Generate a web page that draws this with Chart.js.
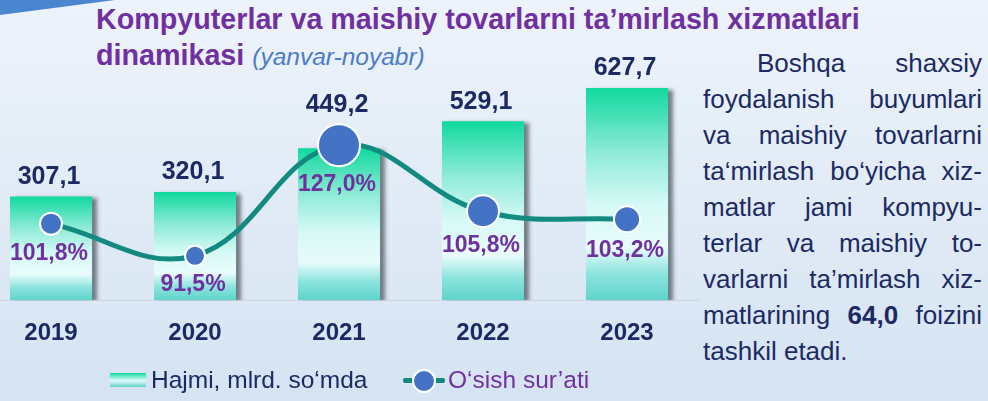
<!DOCTYPE html>
<html>
<head>
<meta charset="utf-8">
<script src="https://cdn.jsdelivr.net/npm/chart.js@4.4.0/dist/chart.umd.min.js"></script>
<style>
  body {
    margin: 0;
    width: 988px;
    height: 401px;
    overflow: hidden;
    position: relative;
    background: linear-gradient(#edf3fa, #d5e3f2);
    font-family: 'Liberation Sans', Arial, sans-serif;
  }
  .swoosh {
    position: absolute; left: 0; top: 0; width: 120px; height: 18px;
    background: #4a86d0;
    clip-path: polygon(0 0, 115px 0, 0 15px);
  }
  .title {
    position: absolute; left: 96px; top: 1px;
    font-size: 28.7px; font-weight: bold; line-height: 36px;
    color: #7030a0; white-space: nowrap;
  }
  .title span { font-size: 24.5px; font-weight: normal; font-style: italic; color: #4a7cc8; }
  #wrap { position: absolute; left: -21px; top: 0; width: 720px; height: 367px; }
  .note {
    position: absolute; left: 703px; top: 45px; width: 279px;
    font-size: 26px; line-height: 36px; color: #1b2a63;
  }
  .note div { text-align: justify; text-align-last: justify; }
  .note div.last { text-align: left; text-align-last: left; }
  .note div.first { padding-left: 54px; }
  .legend { position: absolute; top: 365px; left: 0; height: 30px; font-size: 24.5px; line-height: 30px; }
  .legend .box {
    position: absolute; left: 110px; top: 8px; width: 36px; height: 14px;
    background: linear-gradient(#10d99e, #e2fbfa 55%, #5fd4cb);
  }
  .legend .t1 { position: absolute; left: 151px; top: 0; color: #1b2a63; white-space: nowrap; }
  .legend .ln { position: absolute; left: 403px; top: 13px; width: 42px; height: 5px; background: #128a80; border-radius: 2px; }
  .legend .dot { position: absolute; left: 412px; top: 4px; width: 20px; height: 20px; border-radius: 50%; background: #4472c4; border: 2px solid #fff; }
  .legend .t2 { position: absolute; left: 448px; top: 0; color: #7030a0; white-space: nowrap; }
</style>
</head>
<body>
<div class="swoosh"></div>
<div class="title">Kompyuterlar va maishiy tovarlarni ta’mirlash xizmatlari<br>dinamikasi <span>(yanvar-noyabr)</span></div>
<div id="wrap"><canvas id="chart" width="720" height="367"></canvas></div>
<div class="note">
  <div class="first">Boshqa shaxsiy</div>
  <div>foydalanish buyumlari</div>
  <div>va maishiy tovarlarni</div>
  <div>ta‘mirlash bo‘yicha xiz-</div>
  <div>matlar jami kompyu-</div>
  <div>terlar va maishiy to-</div>
  <div>varlarni ta’mirlash xiz-</div>
  <div>matlarining <b>64,0</b> foizini</div>
  <div class="last">tashkil etadi.</div>
</div>
<div class="legend">
  <div class="box"></div><div class="t1">Hajmi, mlrd. so‘mda</div>
  <div class="ln"></div><div class="dot"></div><div class="t2">O‘sish sur’ati</div>
</div>
<script>
// Ma'lumotlar
const years = ['2019', '2020', '2021', '2022', '2023'];
const volume = [307.1, 320.1, 449.2, 529.1, 627.7];   // mlrd. so'm
const growth = [101.8, 91.5, 127.0, 105.8, 103.2];    // %

const fmt = v => v.toFixed(1).replace('.', ',');

// Ustunlar uchun gradient (tepada yashil, o'rtada oq, pastda moviy)
function barFill(c) {
  const chart = c.chart;
  if (!chart.chartArea || c.type !== 'data') return '#7fe3d5';
  const ys = chart.scales.y;
  const top = ys.getPixelForValue(c.raw);
  const bottom = ys.getPixelForValue(0);
  const g = chart.ctx.createLinearGradient(0, top, 0, bottom);
  g.addColorStop(0, '#10d99e');
  g.addColorStop(0.3, '#8debd6');
  g.addColorStop(0.55, '#d5f9f6');
  g.addColorStop(0.75, '#e8fcfb');
  g.addColorStop(0.88, '#8ae3dd');
  g.addColorStop(1, '#5fd4cb');
  return g;
}

// Ustun soyasi va yozuvlar
const decor = {
  id: 'decor',
  beforeDatasetDraw(chart, args) {
    if (args.index !== 1) return;
    const ctx = chart.ctx;
    ctx.save();
    ctx.shadowColor = 'rgba(40,50,60,0.6)';
    ctx.shadowOffsetX = 5;
    ctx.shadowOffsetY = 2;
    ctx.shadowBlur = 4;
  },
  afterDatasetDraw(chart, args) {
    if (args.index === 1) chart.ctx.restore();
  },
  afterDatasetsDraw(chart) {
    const ctx = chart.ctx;
    const lineMeta = chart.getDatasetMeta(0);
    const barMeta = chart.getDatasetMeta(1);
    ctx.save();
    ctx.textAlign = 'center';
    barMeta.data.forEach((bar, i) => {
      const pt = lineMeta.data[i];
      const r = pt.options.radius;
      const top = Math.min(bar.y, pt.y - r);
      ctx.font = 'bold 25px "Liberation Sans", Arial, sans-serif';
      ctx.fillStyle = '#1b2a63';
      ctx.textBaseline = 'bottom';
      ctx.fillText(fmt(volume[i]), bar.x - 2, top - 7);
      ctx.font = 'bold 23px "Liberation Sans", Arial, sans-serif';
      ctx.fillStyle = '#7030a0';
      ctx.textBaseline = 'top';
      ctx.fillText(fmt(growth[i]) + '%', pt.x - 2, pt.y + r + 7);
    });
    ctx.restore();
  }
};

new Chart(document.getElementById('chart'), {
  data: {
    labels: years,
    datasets: [
      {
        type: 'line',
        label: 'O‘sish sur’ati',
        data: growth,
        yAxisID: 'y2',
        order: 1,
        borderColor: '#128a80',
        borderWidth: 5,
        tension: 0.4,
        pointRadius: [11, 10, 21, 16, 13],
        pointBackgroundColor: '#4472c4',
        pointBorderColor: '#ffffff',
        pointBorderWidth: 2
      },
      {
        type: 'bar',
        label: 'Hajmi, mlrd. so‘mda',
        data: volume,
        yAxisID: 'y',
        order: 2,
        backgroundColor: barFill,
        barPercentage: 0.57,
        categoryPercentage: 1
      }
    ]
  },
  options: {
    responsive: false,
    animation: false,
    layout: { autoPadding: false, padding: { top: 60, left: 0, right: 0, bottom: 0 } },
    plugins: { legend: { display: false }, tooltip: { enabled: false } },
    scales: {
      x: {
        grid: { display: false, drawTicks: false },
        border: { display: true, color: '#cbd7e4', width: 1 },
        ticks: {
          padding: 19,
          color: '#1b2a63',
          font: { family: '"Liberation Sans", Arial, sans-serif', size: 24, weight: 'bold' }
        }
      },
      y: { display: false, min: 0, max: 710.6 },
      y2: { display: false, min: 77.24, max: 154.33 }
    }
  },
  plugins: [decor]
});
</script>
</body>
</html>
